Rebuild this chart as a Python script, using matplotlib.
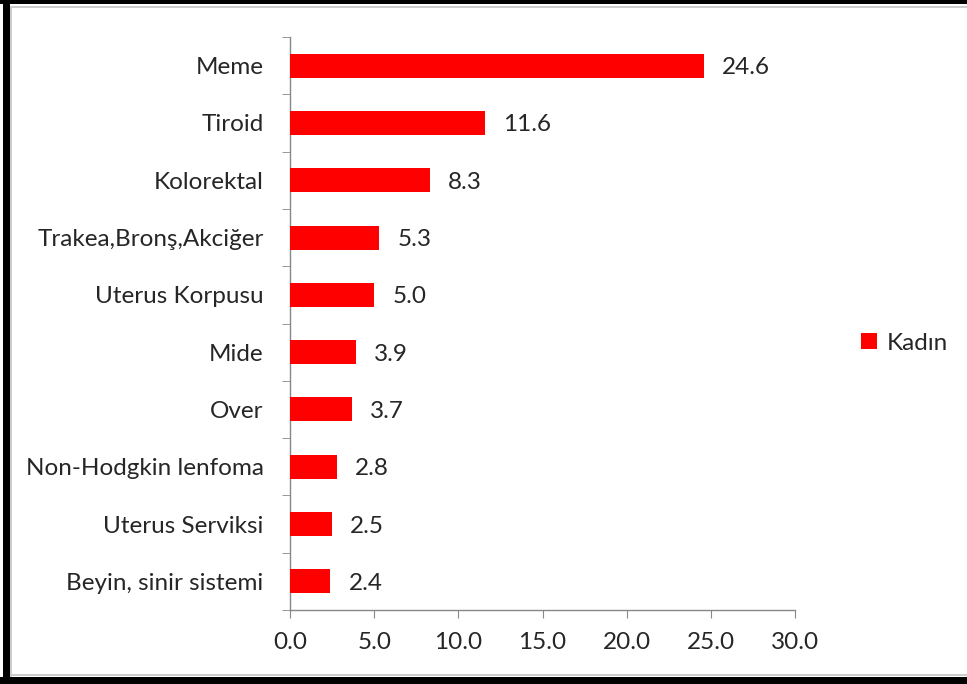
import matplotlib
matplotlib.use("Agg")
import matplotlib.pyplot as plt
from matplotlib.patches import Rectangle, Patch
import numpy as np

categories = ["Meme", "Tiroid", "Kolorektal", "Trakea,Bronş,Akciğer", "Uterus Korpusu",
              "Mide", "Over", "Non-Hodgkin lenfoma", "Uterus Serviksi", "Beyin, sinir sistemi"]
values = [24.6, 11.6, 8.3, 5.3, 5.0, 3.9, 3.7, 2.8, 2.5, 2.4]
series_name = "Kadın"
xticks = [0, 5, 10, 15, 20, 25, 30]

plt.rcParams['font.family'] = ['Lato', 'DejaVu Sans']

W, H = 967, 684
FS = 17.5
TXT = "#262626"
fig = plt.figure(figsize=(W/100, H/100), dpi=100)
fig.patch.set_facecolor("white")

ax = fig.add_axes([290/W, 1-610/H, (795-290)/W, (610-37)/H])
n = len(categories)
y = np.arange(n)
ax.barh(y, values, height=0.42, color="#FF0000", label=series_name, zorder=3)
ax.set_ylim(n-0.5, -0.5)
ax.set_xlim(0, 30)
ax.set_xticks(xticks)
ax.set_xticklabels([f"{t:.1f}" for t in xticks])
ax.set_yticks(y)
ax.set_yticklabels(categories)
ax.set_yticks(np.arange(n+1)-0.5, minor=True)
ax.tick_params(axis='y', which='major', length=0, pad=19)
ax.tick_params(axis='y', which='minor', length=6, color="#888888", direction='out')
ax.tick_params(axis='x', length=6, color="#888888", direction='out', pad=10)
ax.tick_params(labelsize=FS, labelcolor=TXT)
for s in ["top", "right"]:
    ax.spines[s].set_visible(False)
for s in ["left", "bottom"]:
    ax.spines[s].set_color("#888888")
    ax.spines[s].set_linewidth(1.0)

for yi, v in zip(y, values):
    ax.annotate(f"{v:.1f}", (v, yi), xytext=(18, -2), textcoords="offset pixels",
                va="center", ha="left", fontsize=FS, color=TXT)

handles = [Patch(facecolor="#FF0000", label=series_name)]
fig.legend(handles=handles, loc="center left", bbox_to_anchor=(839/W, 1-343/H), frameon=False,
           fontsize=FS, handlelength=0.65, handleheight=0.65, handletextpad=0.4, labelcolor=TXT)

# frame
def frect(x0, y0, x1, y1, color):
    fig.patches.append(Rectangle((x0/W, 1-y1/H), (x1-x0)/W, (y1-y0)/H, transform=fig.transFigure,
                                 facecolor=color, edgecolor="none", zorder=10))
frect(0, 0, W, 4, "black")
frect(3, 0, 10, H, "black")
frect(0, 677, W, H, "black")
frect(10, 6, W, 8, "#cccccc")
frect(10, 6, 12, 677, "#cccccc")
frect(10, 674, W, 676, "#cccccc")

fig.savefig("out.png", dpi=100)
